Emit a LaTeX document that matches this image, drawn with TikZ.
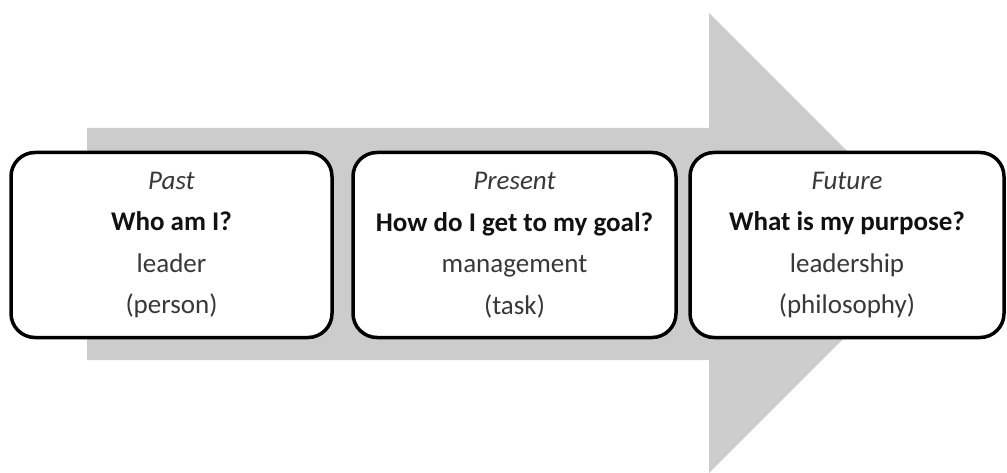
\documentclass[tikz,border=0pt]{standalone}
\usepackage{fontspec}
\setmainfont{Carlito}
\definecolor{arrowgray}{HTML}{CCCCCC}
\definecolor{txtgray}{HTML}{383838}
\definecolor{txtdark}{HTML}{111111}
\begin{document}
\begin{tikzpicture}[x=1pt,y=-1pt,
  stagebox/.style={draw=black, line width=3.5pt, fill=white, rounded corners=24pt,
    minimum height=185pt, inner sep=0pt, align=center, text=txtgray,
    font=\fontsize{27}{41.5}\selectfont},
  ]
\useasboundingbox (0,0) rectangle (1007,473);
\fill[arrowgray] (87,128) -- (709,128) -- (709,13) -- (939,243) -- (709,473) -- (709,360) -- (87,360) -- cycle;
\node[stagebox, minimum width=321pt] (past) at (171.5,245)
  {\textit{Past}\\\textcolor{txtdark}{\textbf{Who am I?}}\\leader\\(person)};
\node[stagebox, minimum width=323pt] (present) at (514.5,245)
  {\textit{Present}\\\textcolor{txtdark}{\textbf{How do I get to my goal?}}\\management\\(task)};
\node[stagebox, minimum width=314pt] (future) at (847,245)
  {\textit{Future}\\\textcolor{txtdark}{\textbf{What is my purpose?}}\\leadership\\(philosophy)};
\end{tikzpicture}
\end{document}
